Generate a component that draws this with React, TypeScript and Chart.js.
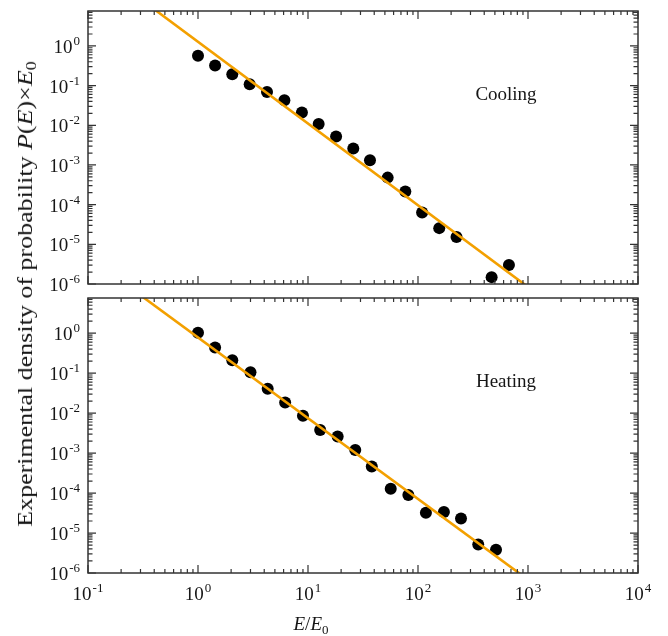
import React, { useEffect, useRef } from 'react';
import { Chart, registerables } from 'chart.js';

Chart.register(...registerables);

// ---- Data ----
const coolingE = [1.0, 1.43, 2.05, 2.95, 4.24, 6.1, 8.8, 12.5, 18, 25.8, 36.6, 53, 76.7, 109, 156, 224, 467, 671];
const coolingP = [0.57, 0.32, 0.193, 0.108, 0.069, 0.043, 0.021, 0.0108, 0.0052, 0.0026, 0.00132, 0.00048, 0.000214, 6.3e-5, 2.56e-5, 1.52e-5, 1.49e-6, 3.0e-6];
const coolingFitE = [0.3, 1000];
const coolingFitP = [15.2, 8.4e-7];

const heatingE = [1.0, 1.43, 2.05, 3.0, 4.3, 6.2, 9.0, 12.9, 18.6, 26.9, 38, 56.5, 81.7, 118, 172, 246, 353, 512];
const heatingP = [1.02, 0.44, 0.211, 0.106, 0.0405, 0.0185, 0.0086, 0.0038, 0.0026, 0.0012, 4.6e-4, 1.28e-4, 8.9e-5, 3.2e-5, 3.35e-5, 2.3e-5, 5.2e-6, 3.8e-6];
const heatingFitE = [0.3, 1000];
const heatingFitP = [8.9, 6.8e-7];

const xDecades = [-1, 0, 1, 2, 3, 4];
const yDecades = [-6, -5, -4, -3, -2, -1, 0];
const xRange = [0.1, 10000];
const yRange = [1e-6, 7.6];

const SERIF = '"Liberation Serif", "Times New Roman", Times, serif';
const TEXT = '#161616';
const FIT_COLOR = '#F3A000';

function drawPow(ctx: CanvasRenderingContext2D, exp: number, x: number, y: number, align: 'right' | 'center') {
  const base = '10';
  const sup = String(exp);
  ctx.font = `19px ${SERIF}`;
  const wb = ctx.measureText(base).width;
  ctx.font = `13px ${SERIF}`;
  const ws = ctx.measureText(sup).width;
  const total = wb + 1 + ws;
  const left = align === 'right' ? x - total : x - total / 2;
  ctx.textAlign = 'left';
  ctx.textBaseline = 'alphabetic';
  ctx.font = `19px ${SERIF}`;
  ctx.fillText(base, left, y);
  ctx.font = `13px ${SERIF}`;
  ctx.fillText(sup, left + wb + 1, y - 8);
}

const framePlugin = {
  id: 'frameTicks',
  afterDatasetsDraw(chart: any) {
    const opts = chart.options.plugins.frameTicks || {};
    const { ctx, chartArea: a } = chart;
    const xs = chart.scales.x;
    const ys = chart.scales.y;
    ctx.save();
    ctx.strokeStyle = '#333';
    ctx.lineWidth = 1.2;
    ctx.beginPath();
    const xMajor = 8, xMinor = 4, yMajor = 8, yMinor = 4.5;
    xDecades.forEach((d) => {
      const v = Math.pow(10, d);
      const px = xs.getPixelForValue(v);
      ctx.moveTo(px, a.bottom); ctx.lineTo(px, a.bottom - xMajor);
      ctx.moveTo(px, a.top); ctx.lineTo(px, a.top + xMajor);
      for (let k = 2; k <= 9; k++) {
        const m = k * v;
        if (m > xRange[1]) break;
        const p = xs.getPixelForValue(m);
        ctx.moveTo(p, a.bottom); ctx.lineTo(p, a.bottom - xMinor);
        ctx.moveTo(p, a.top); ctx.lineTo(p, a.top + xMinor);
      }
    });
    yDecades.forEach((d) => {
      const v = Math.pow(10, d);
      const py = ys.getPixelForValue(v);
      ctx.moveTo(a.left, py); ctx.lineTo(a.left + yMajor, py);
      ctx.moveTo(a.right, py); ctx.lineTo(a.right - yMajor, py);
      for (let k = 2; k <= 9; k++) {
        const m = k * v;
        if (m > yRange[1]) break;
        const p = ys.getPixelForValue(m);
        ctx.moveTo(a.left, p); ctx.lineTo(a.left + yMinor, p);
        ctx.moveTo(a.right, p); ctx.lineTo(a.right - yMinor, p);
      }
    });
    ctx.stroke();
    ctx.lineWidth = 1.5;
    ctx.strokeRect(a.left, a.top, a.right - a.left, a.bottom - a.top);

    ctx.fillStyle = TEXT;
    yDecades.forEach((d) => {
      const py = ys.getPixelForValue(Math.pow(10, d));
      drawPow(ctx, d, a.left - 8, py + 7, 'right');
    });
    if (opts.xLabels) {
      xDecades.forEach((d) => {
        const px = xs.getPixelForValue(Math.pow(10, d));
        drawPow(ctx, d, px, a.bottom + 27, 'center');
      });
      // x-axis title E/E0
      const cx = 311, by = a.bottom + 57;
      ctx.font = `italic 19px ${SERIF}`;
      const w1 = ctx.measureText('E').width;
      ctx.font = `19px ${SERIF}`;
      const w2 = ctx.measureText('/').width;
      ctx.font = `13px ${SERIF}`;
      const w3 = ctx.measureText('0').width;
      const total = w1 * 2 + w2 + w3;
      let xx = cx - total / 2;
      ctx.textAlign = 'left';
      ctx.font = `italic 19px ${SERIF}`;
      ctx.fillText('E', xx, by); xx += w1;
      ctx.font = `19px ${SERIF}`;
      ctx.fillText('/', xx, by); xx += w2;
      ctx.font = `italic 19px ${SERIF}`;
      ctx.fillText('E', xx, by); xx += w1;
      ctx.font = `13px ${SERIF}`;
      ctx.fillText('0', xx, by + 4);
    }
    if (opts.label) {
      ctx.font = `19px ${SERIF}`;
      ctx.textAlign = 'center';
      ctx.textBaseline = 'alphabetic';
      ctx.fillText(opts.label, 506, a.top + 88.5);
    }
    ctx.restore();
  },
};

function makeConfig(E: number[], P: number[], fitE: number[], fitP: number[], label: string, xLabels: boolean, padding: any) {
  return {
    type: 'scatter' as const,
    data: {
      datasets: [
        {
          label: 'Fit',
          data: fitE.map((e, i) => ({ x: e, y: fitP[i] })),
          showLine: true,
          borderColor: FIT_COLOR,
          borderWidth: 2.6,
          pointRadius: 0,
          backgroundColor: FIT_COLOR,
        },
        {
          label: label,
          data: E.map((e, i) => ({ x: e, y: P[i] })),
          showLine: false,
          pointRadius: 6,
          pointBorderWidth: 0,
          backgroundColor: '#000',
          borderColor: '#000',
        },
      ],
    },
    options: {
      responsive: false,
      animation: false,
      layout: { padding },
      scales: {
        x: { type: 'logarithmic', min: xRange[0], max: xRange[1], display: false },
        y: { type: 'logarithmic', min: yRange[0], max: yRange[1], display: false },
      },
      plugins: {
        legend: { display: false },
        tooltip: { enabled: false },
        frameTicks: { label, xLabels },
      },
    },
    plugins: [framePlugin],
  };
}

export default function App() {
  const topRef = useRef<HTMLCanvasElement>(null);
  const botRef = useRef<HTMLCanvasElement>(null);

  useEffect(() => {
    const c1 = new Chart(
      topRef.current!,
      makeConfig(coolingE, coolingP, coolingFitE, coolingFitP, 'Cooling', false, { left: 88, right: 30, top: 11, bottom: 16 }) as any
    );
    const c2 = new Chart(
      botRef.current!,
      makeConfig(heatingE, heatingP, heatingFitE, heatingFitP, 'Heating', true, { left: 88, right: 30, top: 8, bottom: 63 }) as any
    );
    return () => {
      c1.destroy();
      c2.destroy();
    };
  }, []);

  return (
    <div style={{ position: 'absolute', left: 0, top: 0, width: 668, height: 636, background: '#fff', overflow: 'hidden' }}>
      <canvas ref={topRef} width={668} height={300} style={{ position: 'absolute', left: 0, top: 0, width: 668, height: 300 }} />
      <canvas ref={botRef} width={668} height={346} style={{ position: 'absolute', left: 0, top: 290, width: 668, height: 346 }} />
      <div
        style={{
          position: 'absolute',
          left: 25,
          top: 294,
          transform: 'translate(-50%, -50%) rotate(-90deg) scaleX(1.3)',
          whiteSpace: 'nowrap',
          fontFamily: SERIF,
          fontSize: 20,
          lineHeight: '22px',
          color: TEXT,
        }}
      >
        Experimental density of probability <i>P</i>(<i>E</i>)×<i>E</i>
        <sub style={{ fontSize: 14, verticalAlign: '-4px', lineHeight: 0 }}>0</sub>
      </div>
    </div>
  );
}
